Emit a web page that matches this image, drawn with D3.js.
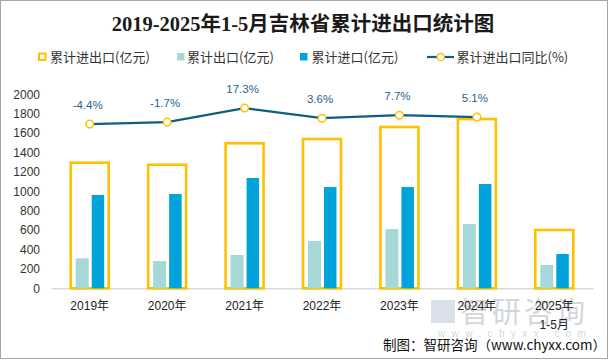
<!DOCTYPE html>
<html><head><meta charset="utf-8">
<script src="https://cdn.jsdelivr.net/npm/d3@7"></script>
<style>body{margin:0;background:#fff}svg{display:block}</style>
</head><body>
<svg id="c" width="609" height="360"></svg>
<script>
const categories = ["2019年","2020年","2021年","2022年","2023年","2024年","2025年\n1-5月"];
const totalValues = [1295, 1274, 1495, 1539, 1663, 1745, 601];
const exportValues = [309, 281, 343, 488, 611, 663, 240];
const importValues = [962, 972, 1137, 1044, 1044, 1075, 354];
const growthValues = [-4.4, -1.7, 17.3, 3.6, 7.7, 5.1, null];
const growthLabels = ["-4.4%","-1.7%","17.3%","3.6%","7.7%","5.1%",""];
const yTicks = [0,200,400,600,800,1000,1200,1400,1600,1800,2000];

const svg = d3.select("#c");
const W = 609, H = 360;
const m = {l: 51, r: 16, t: 94.3, b: 71.7};
const x = d3.scaleBand().domain(categories).range([m.l, W - m.r]).padding(0);
const y = d3.scaleLinear().domain([0, 2000]).range([H - m.b, m.t]);
const y2 = d3.scaleLinear().domain([-227, 36]).range([H - m.b, m.t]);

// frame
svg.append("rect").attr("x",0.5).attr("y",0.5).attr("width",W-2).attr("height",H-2)
  .attr("fill","none").attr("stroke","#a6a6a6").attr("stroke-width",1);

// title
svg.append("text").attr("x",303).attr("y",31).attr("text-anchor","middle")
  .attr("font-family","'Liberation Serif','Noto Sans CJK SC',serif").attr("font-weight","bold")
  .attr("font-size",20.5).attr("fill","#1a1a1a").text("2019-2025年1-5月吉林省累计进出口统计图");

// watermark (behind)
const wm = svg.append("g").attr("opacity",0.3);
wm.append("rect").attr("x",431).attr("y",300).attr("width",24).attr("height",23).attr("fill","#7f9bbd");
wm.append("text").attr("x",460).attr("y",323).attr("font-family","'Noto Sans CJK SC',sans-serif")
  .attr("font-size",29).attr("fill","#6f7a86").attr("letter-spacing",3).text("智研咨询");
wm.append("text").attr("x",438).attr("y",337).attr("font-family","'Liberation Sans',sans-serif")
  .attr("font-size",10).attr("fill","#6f7a86").attr("letter-spacing",6.4).text("www.chyxx.com");

// y axis labels
const ya = svg.append("g").attr("transform",`translate(${m.l},0)`)
  .call(d3.axisLeft(y).tickValues(yTicks).tickFormat(d3.format("d")).tickSize(0).tickPadding(11));
ya.select(".domain").remove();
ya.selectAll("text").attr("font-family","'Liberation Sans',Arial,sans-serif").attr("font-size",12).attr("fill","#333");

// x axis
const xa = svg.append("g").attr("transform",`translate(0,${y(0)})`)
  .call(d3.axisBottom(x).tickSize(0).tickFormat(""));
xa.select(".domain").attr("stroke","#d9d9d9").attr("stroke-width",1.5);
const xl = svg.append("g");
categories.forEach(c => {
  const lines = c.split("\n");
  const t = xl.append("text").attr("x", x(c)+x.bandwidth()/2).attr("y", 310)
    .attr("text-anchor","middle").attr("font-family","'Liberation Sans','Noto Sans CJK SC',sans-serif")
    .attr("font-size",12).attr("fill","#222");
  lines.forEach((ln,i)=> t.append("tspan").attr("x", x(c)+x.bandwidth()/2).attr("dy", i===0?0:18.5).text(ln));
});

// bars
const cx = c => x(c) + x.bandwidth()/2;
svg.append("g").selectAll("rect").data(categories).join("rect")
  .attr("x", c => cx(c)-19).attr("width",38)
  .attr("y", (c,i) => y(totalValues[i])).attr("height",(c,i)=> y(0)-y(totalValues[i]))
  .attr("fill","none").attr("stroke","#FFC000").attr("stroke-width",2.6);
svg.append("g").selectAll("rect").data(categories).join("rect")
  .attr("x", c => cx(c)-14).attr("width",13)
  .attr("y", (c,i) => y(exportValues[i])).attr("height",(c,i)=> y(0)-y(exportValues[i]))
  .attr("fill","#A5D8D6");
svg.append("g").selectAll("rect").data(categories).join("rect")
  .attr("x", c => cx(c)+2).attr("width",12.5)
  .attr("y", (c,i) => y(importValues[i])).attr("height",(c,i)=> y(0)-y(importValues[i]))
  .attr("fill","#00A3DA");

// line
const pts = categories.map((c,i)=>({c, v: growthValues[i], l: growthLabels[i]})).filter(d=>d.v!==null);
svg.append("path").datum(pts)
  .attr("d", d3.line().x(d=>cx(d.c)).y(d=>y2(d.v)))
  .attr("fill","none").attr("stroke","#105E7F").attr("stroke-width",2.2);
svg.append("g").selectAll("circle").data(pts).join("circle")
  .attr("cx", d=>cx(d.c)).attr("cy", d=>y2(d.v)).attr("r",3.8)
  .attr("fill","#fff").attr("stroke","#FFC000").attr("stroke-width",1.5);
svg.append("g").selectAll("text").data(pts).join("text")
  .attr("x", d=>cx(d.c)-2).attr("y", d=>y2(d.v)-15)
  .attr("text-anchor","middle").attr("font-family","'Liberation Sans',Arial,sans-serif")
  .attr("font-size",11.5).attr("fill","#1F6391").text(d=>d.l);

// legend
const lg = svg.append("g").attr("font-family","'Noto Sans CJK SC',sans-serif").attr("font-size",13).attr("fill","#333");
lg.append("rect").attr("x",39).attr("y",53.5).attr("width",6.5).attr("height",6.5).attr("fill","none").attr("stroke","#FFC000").attr("stroke-width",2);
lg.append("text").attr("x",50).attr("y",62).text("累计进出口(亿元)");
lg.append("rect").attr("x",177).attr("y",53).attr("width",7.5).attr("height",7.5).attr("fill","#A5D8D6");
lg.append("text").attr("x",187).attr("y",62).text("累计出口(亿元)");
lg.append("rect").attr("x",300).attr("y",53).attr("width",7.5).attr("height",7.5).attr("fill","#00A3DA");
lg.append("text").attr("x",311.5).attr("y",62).text("累计进口(亿元)");
lg.append("line").attr("x1",427).attr("x2",454).attr("y1",57).attr("y2",57).attr("stroke","#105E7F").attr("stroke-width",2.2);
lg.append("circle").attr("cx",440.7).attr("cy",57).attr("r",3.6).attr("fill","#fff").attr("stroke","#FFC000").attr("stroke-width",1.5);
lg.append("text").attr("x",456.5).attr("y",62).text("累计进出口同比(%)");

// source
svg.append("text").attr("x",383).attr("y",350).attr("font-family","'Noto Sans CJK SC',sans-serif")
  .attr("font-size",13.5).attr("fill","#111").text("制图：智研咨询（www.chyxx.com）");
</script>
</body></html>
